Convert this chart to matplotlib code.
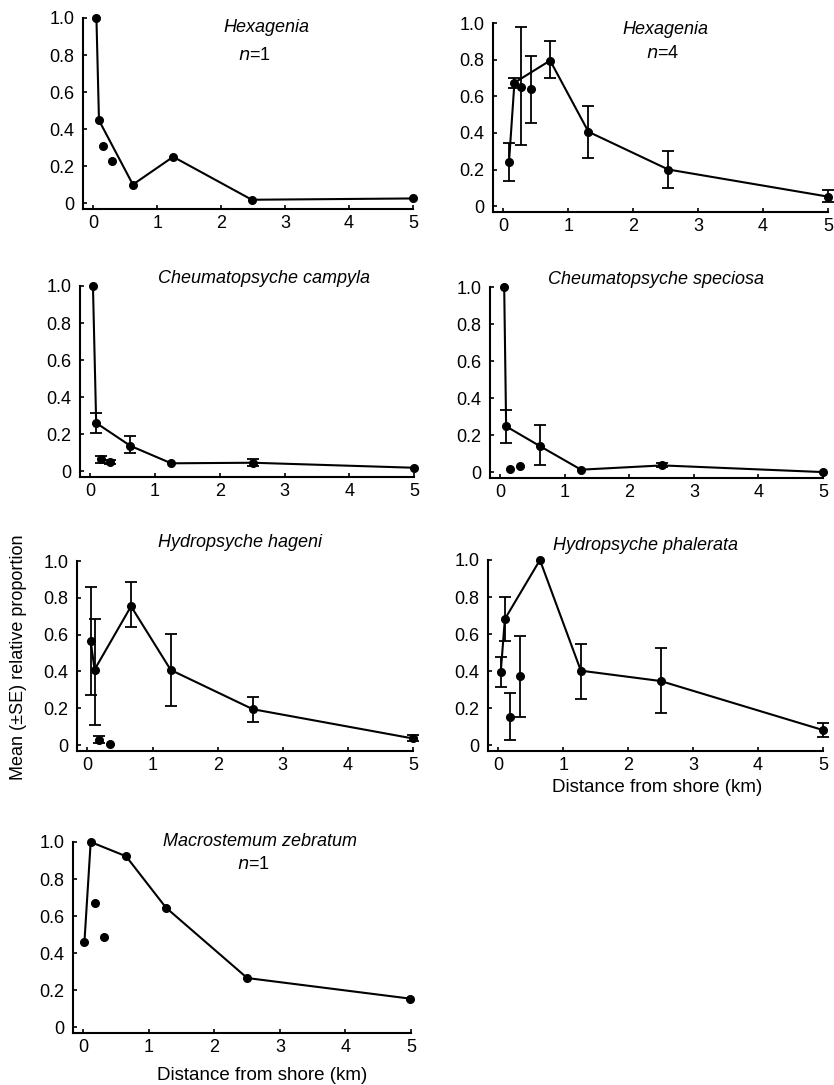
import numpy as np
from matplotlib import pyplot as plt

plt.rcParams['font.family'] = ['Liberation Sans', 'DejaVu Sans']

# ---- data (distance km, relative proportion) ----
hex1_x = [0.05, 0.09, 0.62, 1.25, 2.48, 5.0]
hex1_y = [1.0, 0.447, 0.10, 0.25, 0.018, 0.025]
hex1_off_x = [0.155, 0.30]
hex1_off_y = [0.31, 0.227]

hex4_x = [0.087, 0.17, 0.72, 1.31, 2.54, 5.0]
hex4_y = [0.243, 0.674, 0.795, 0.406, 0.20, 0.052]
hex4_lo = [0.135, 0.647, 0.70, 0.265, 0.10, 0.02]
hex4_hi = [0.344, 0.697, 0.90, 0.545, 0.30, 0.09]
hex4_off_x = [0.275, 0.42]
hex4_off_y = [0.652, 0.64]
hex4_off_lo = [0.335, 0.456]
hex4_off_hi = [0.976, 0.819]

camp_x = [0.04, 0.09, 0.62, 1.25, 2.51, 5.0]
camp_y = [1.0, 0.26, 0.136, 0.042, 0.045, 0.018]
camp_lo = [np.nan, 0.208, 0.10, np.nan, 0.03, np.nan]
camp_hi = [np.nan, 0.313, 0.19, np.nan, 0.065, np.nan]
camp_off_x = [0.16, 0.31]
camp_off_y = [0.063, 0.049]
camp_off_lo = [0.045, 0.04]
camp_off_hi = [0.081, 0.06]

spec_x = [0.06, 0.09, 0.62, 1.25, 2.51, 5.0]
spec_y = [1.0, 0.247, 0.139, 0.013, 0.036, 0.0]
spec_lo = [np.nan, 0.157, 0.04, np.nan, 0.025, np.nan]
spec_hi = [np.nan, 0.337, 0.252, np.nan, 0.05, np.nan]
spec_off_x = [0.15, 0.31]
spec_off_y = [0.016, 0.034]

hag_x = [0.05, 0.11, 0.67, 1.28, 2.54, 5.0]
hag_y = [0.565, 0.41, 0.754, 0.408, 0.195, 0.036]
hag_lo = [0.273, 0.107, 0.641, 0.213, 0.125, 0.02]
hag_hi = [0.86, 0.687, 0.887, 0.601, 0.26, 0.055]
hag_off_x = [0.18, 0.34]
hag_off_y = [0.027, 0.007]
hag_off_lo = [0.01, np.nan]
hag_off_hi = [0.05, np.nan]

phal_x = [0.036, 0.10, 0.64, 1.27, 2.50, 5.0]
phal_y = [0.393, 0.681, 1.0, 0.402, 0.346, 0.081]
phal_lo = [0.315, 0.564, np.nan, 0.249, 0.175, 0.045]
phal_hi = [0.477, 0.798, np.nan, 0.546, 0.526, 0.12]
phal_off_x = [0.18, 0.33]
phal_off_y = [0.153, 0.375]
phal_off_lo = [0.03, 0.15]
phal_off_hi = [0.279, 0.591]

zeb_x = [0.015, 0.11, 0.65, 1.26, 2.50, 4.98]
zeb_y = [0.462, 1.0, 0.923, 0.645, 0.265, 0.154]
zeb_off_x = [0.17, 0.32]
zeb_off_y = [0.668, 0.489]

x_ticks = [0, 1, 2, 3, 4, 5]
y_ticks = [0, 0.2, 0.4, 0.6, 0.8, 1.0]
y_tick_labels = ["0", "0.2", "0.4", "0.6", "0.8", "1.0"]

W, H = 834, 1085
FS = 13


def rect(left, top, right, bottom):
    return [left / W, 1 - bottom / H, (right - left) / W, (bottom - top) / H]


def errs(y, lo, hi):
    y = np.asarray(y, float)
    lo = np.asarray(lo, float)
    hi = np.asarray(hi, float)
    return y - lo, hi - y


def draw_points(ax, x, y, lo=None, hi=None, line=True):
    x = np.asarray(x, float)
    y = np.asarray(y, float)
    if line:
        ax.plot(x, y, color='black', lw=1.5, zorder=2, clip_on=False)
    ax.plot(x, y, 'o', color='black', ms=5.5, zorder=3, clip_on=False)
    if lo is not None:
        d_lo, d_hi = errs(y, lo, hi)
        m = ~np.isnan(d_lo)
        if m.any():
            ax.errorbar(x[m], y[m], yerr=[d_lo[m], d_hi[m]], fmt='none',
                        ecolor='black', elinewidth=1.3, capsize=4,
                        capthick=1.3, zorder=2, clip_on=False)


def style(ax):
    ax.set_xlim(-0.16, 5.0)
    ax.set_ylim(-0.032, 1.0)
    ax.spines['top'].set_visible(False)
    ax.spines['right'].set_visible(False)
    ax.spines['left'].set_linewidth(1.5)
    ax.spines['bottom'].set_linewidth(1.5)
    ax.set_xticks(x_ticks)
    ax.set_xticklabels([str(t) for t in x_ticks])
    ax.set_yticks(y_ticks)
    ax.set_yticklabels(y_tick_labels)
    ax.tick_params(axis='both', direction='in', length=3, width=1.2,
                   labelsize=FS)
    ax.tick_params(axis='y', pad=6)
    ax.tick_params(axis='x', pad=4)


fig = plt.figure(figsize=(W / 100, H / 100), dpi=100)

# panel 1
ax = fig.add_axes(rect(83, 18, 413, 209))
style(ax)
draw_points(ax, hex1_x, hex1_y)
draw_points(ax, hex1_off_x, hex1_off_y, line=False)
ax.text(0.555, 0.948, "Hexagenia", style='italic', fontsize=FS,
        transform=ax.transAxes, ha='center', va='center')
ax.text(0.52, 0.806, "$\\it{n}$=1", fontsize=FS,
        transform=ax.transAxes, ha='center', va='center')

# panel 2
ax = fig.add_axes(rect(493, 23, 828, 212))
style(ax)
draw_points(ax, hex4_x, hex4_y, hex4_lo, hex4_hi)
draw_points(ax, hex4_off_x, hex4_off_y, hex4_off_lo, hex4_off_hi, line=False)
ax.text(0.516, 0.963, "Hexagenia", style='italic', fontsize=FS,
        transform=ax.transAxes, ha='center', va='center')
ax.text(0.507, 0.841, "$\\it{n}$=4", fontsize=FS,
        transform=ax.transAxes, ha='center', va='center')

# panel 3
ax = fig.add_axes(rect(80, 286, 414, 477))
style(ax)
draw_points(ax, camp_x, camp_y, camp_lo, camp_hi)
draw_points(ax, camp_off_x, camp_off_y, camp_off_lo, camp_off_hi, line=False)
ax.text(0.551, 1.04, "Cheumatopsyche campyla", style='italic', fontsize=FS,
        transform=ax.transAxes, ha='center', va='center')

# panel 4
ax = fig.add_axes(rect(490, 287, 823, 478))
style(ax)
draw_points(ax, spec_x, spec_y, spec_lo, spec_hi)
draw_points(ax, spec_off_x, spec_off_y, line=False)
ax.text(0.50, 1.037, "Cheumatopsyche speciosa", style='italic', fontsize=FS,
        transform=ax.transAxes, ha='center', va='center')

# panel 5
ax = fig.add_axes(rect(77, 561, 413, 751))
style(ax)
draw_points(ax, hag_x, hag_y, hag_lo, hag_hi)
draw_points(ax, hag_off_x, hag_off_y, hag_off_lo, hag_off_hi, line=False)
ax.text(0.485, 1.095, "Hydropsyche hageni", style='italic', fontsize=FS,
        transform=ax.transAxes, ha='center', va='center')

# panel 6
ax = fig.add_axes(rect(488, 560, 823, 751))
style(ax)
draw_points(ax, phal_x, phal_y, phal_lo, phal_hi)
draw_points(ax, phal_off_x, phal_off_y, phal_off_lo, phal_off_hi, line=False)
ax.text(0.469, 1.078, "Hydropsyche phalerata", style='italic', fontsize=FS,
        transform=ax.transAxes, ha='center', va='center')
ax.text(0.504, -0.19, "Distance from shore (km)", fontsize=13.5,
        transform=ax.transAxes, ha='center', va='center')

# panel 7
ax = fig.add_axes(rect(73, 842, 411, 1033))
style(ax)
draw_points(ax, zeb_x, zeb_y)
draw_points(ax, zeb_off_x, zeb_off_y, line=False)
ax.text(0.553, 1.0, "Macrostemum zebratum", style='italic', fontsize=FS,
        transform=ax.transAxes, ha='center', va='center')
ax.text(0.533, 0.88, "$\\it{n}$=1", fontsize=FS,
        transform=ax.transAxes, ha='center', va='center')
ax.text(0.56, -0.225, "Distance from shore (km)", fontsize=13.5,
        transform=ax.transAxes, ha='center', va='center')

fig.text(19 / W, 1 - 657 / H, "Mean (\u00b1SE) relative proportion",
         rotation=90, fontsize=13, ha='center', va='center')

plt.savefig("out.png", dpi=100)
